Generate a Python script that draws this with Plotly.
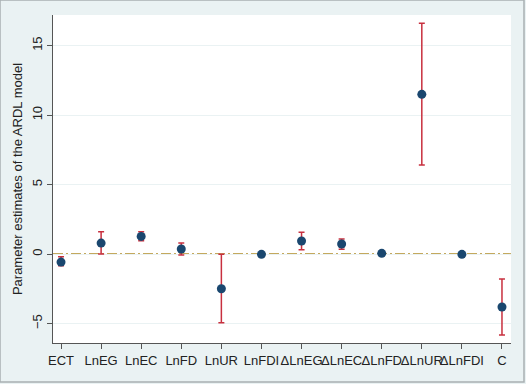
import plotly.graph_objects as go

categories = ["ECT", "LnEG", "LnEC", "LnFD", "LnUR", "LnFDI",
              "ΔLnEG", "ΔLnEC", "ΔLnFD", "ΔLnUR", "ΔLnFDI", "C"]
estimates = [-0.58, 0.79, 1.27, 0.36, -2.50, -0.02, 0.94, 0.72, 0.05, 11.49, -0.02, -3.81]
upper = [-0.20, 1.60, 1.60, 0.79, -0.02, 0.02, 1.56, 1.08, 0.15, 16.60, 0.02, -1.80]
lower = [-0.85, 0.00, 0.96, -0.07, -4.94, -0.06, 0.31, 0.34, -0.05, 6.40, -0.06, -5.83]
y_ticks = [-5, 0, 5, 10, 15]

positions = list(range(1, len(categories) + 1))
err_plus = [u - e for u, e in zip(upper, estimates)]
err_minus = [e - l for e, l in zip(estimates, lower)]

fig = go.Figure()
fig.add_shape(type="line", xref="paper", yref="y", x0=0, x1=1, y0=0, y1=0,
              line=dict(color="#c4a95e", width=2, dash="10px,3px,2px,3px"), layer="below")

fig.add_trace(go.Scatter(
    x=positions, y=estimates, mode="markers",
    marker=dict(color="#1a476f", size=9),
    error_y=dict(type="data", symmetric=False, array=err_plus, arrayminus=err_minus,
                 color="#c8303f", thickness=1.5, width=3),
    showlegend=False,
))

# outer frame
fig.add_shape(type="rect", xref="paper", yref="paper",
              x0=-53/458, x1=(524-53)/458, y0=(343-382)/328, y1=(343-0)/328,
              line=dict(color="#a9b0b3", width=1.5), layer="below")

fig.update_layout(
    width=526, height=384,
    margin=dict(l=53, r=15, t=15, b=41),
    paper_bgcolor="#eaf2f3", plot_bgcolor="white",
    font=dict(family="Liberation Sans, Arial, sans-serif", size=13, color="#222"),
    xaxis=dict(range=[0.8, 12.225], tickmode="array", tickvals=positions, ticktext=categories,
               tickangle=0,
               showgrid=False, zeroline=False, showline=True, linecolor="#555", linewidth=1,
               ticks="outside", ticklen=5, tickcolor="#555", tickfont=dict(size=13)),
    yaxis=dict(range=[-6.4, 17.2], tickmode="array", tickvals=y_ticks, tickangle=-90,
               showgrid=True, gridcolor="#eaf2f3", gridwidth=1, zeroline=False,
               showline=True, linecolor="#555", linewidth=1,
               ticks="outside", ticklen=5, tickcolor="#555", tickfont=dict(size=13),
               title=dict(text="Parameter estimates of the ARDL model", font=dict(size=13), standoff=4)),
)

fig.write_html("out.html", config={"displayModeBar": False},
               post_script="document.body.style.margin='0';document.body.style.padding='0';")
